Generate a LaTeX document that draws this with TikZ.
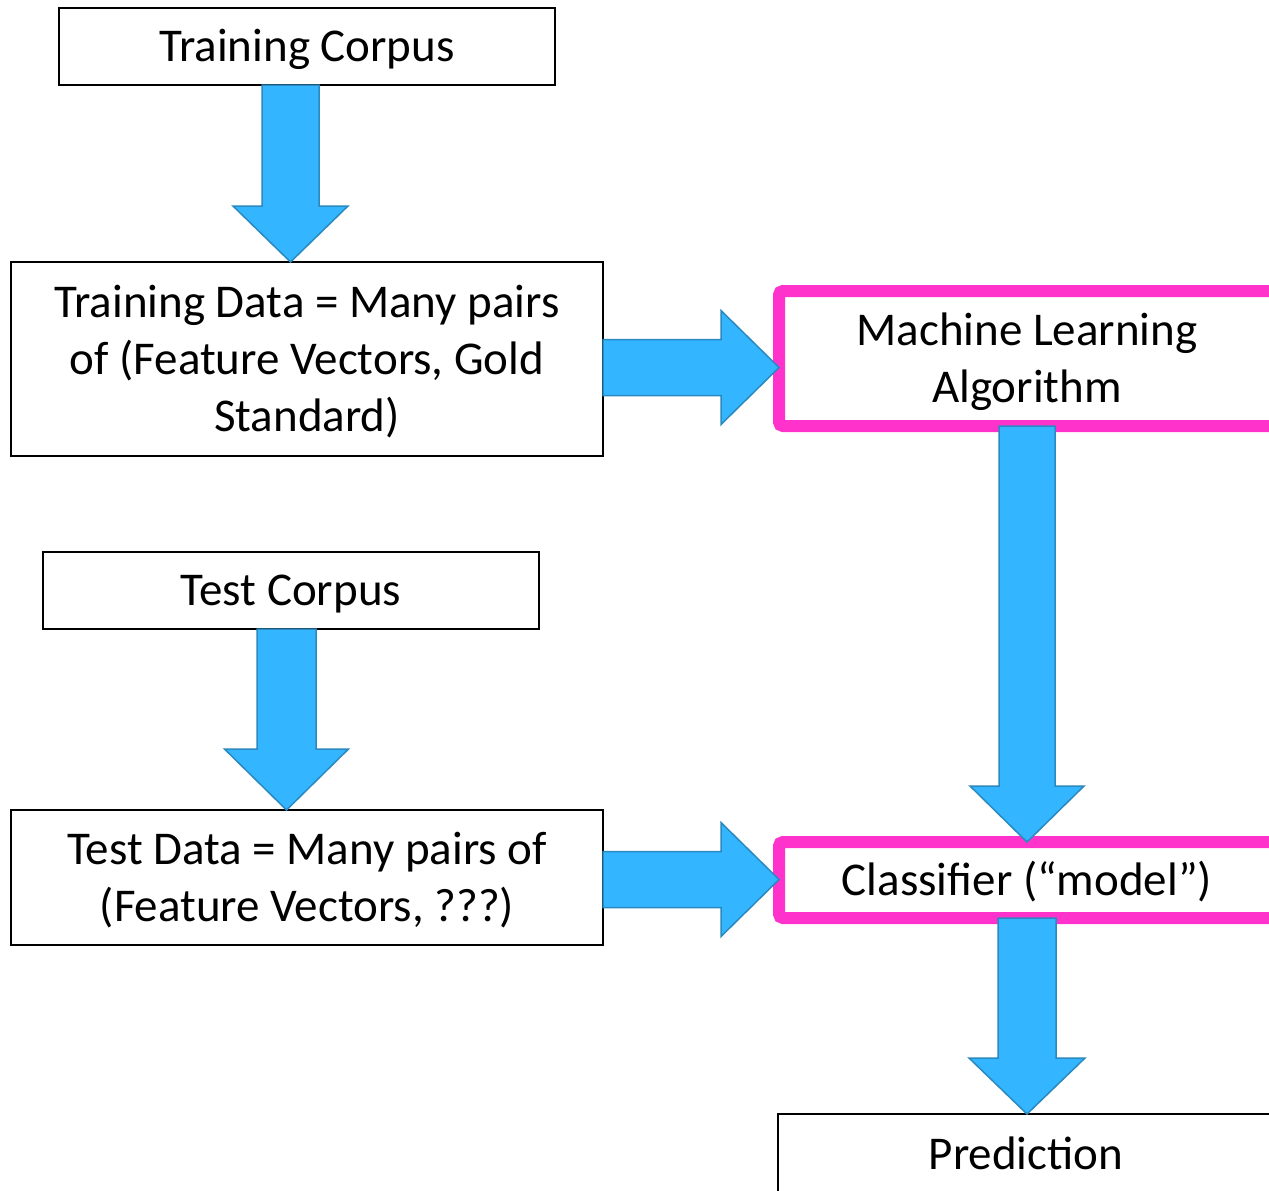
\documentclass[tikz,border=0pt]{standalone}
\usepackage{fontspec}
\setmainfont{Carlito}
\usetikzlibrary{calc}
\definecolor{arrowfill}{HTML}{33B5FF}
\definecolor{arrowline}{HTML}{2A8AC0}
\definecolor{pinkline}{HTML}{FF33CC}
\newcommand{\boxtext}[1]{\raisebox{-2pt}[\height][\depth]{\begin{tabular}{@{}c@{}}#1\end{tabular}}}
\tikzset{
  box/.style={draw=black, line width=1pt, fill=white, align=center, inner sep=0pt, outer sep=0pt,
    font=\fontsize{23.5}{28.5}\selectfont},
  pinkbox/.style={box, draw=pinkline, line width=6pt, rounded corners=2pt},
  blockarrow/.style={fill=arrowfill, draw=arrowline, line width=0.75pt, line join=miter},
}
% #1 centre-line coordinate, #2 from anchor, #3 to anchor, #4 half shaft, #5 half head, #6 head length
\newcommand{\blockdown}[6]{%
  \draw[blockarrow] ($(#1 |- #2)+(-#4,0)$) -- ($(#1 |- #2)+(#4,0)$)
    -- ($(#1 |- #3)+(#4,#6)$) -- ($(#1 |- #3)+(#5,#6)$) -- (#1 |- #3)
    -- ($(#1 |- #3)+(-#5,#6)$) -- ($(#1 |- #3)+(-#4,#6)$) -- cycle;}
\newcommand{\blockright}[6]{%
  \draw[blockarrow] ($(#1 -| #2)+(0,#4)$) -- ($(#1 -| #3)+(-#6,#4)$)
    -- ($(#1 -| #3)+(-#6,#5)$) -- (#1 -| #3) -- ($(#1 -| #3)+(-#6,-#5)$)
    -- ($(#1 -| #3)+(-#6,-#4)$) -- ($(#1 -| #2)+(0,-#4)$) -- cycle;}
\begin{document}
\begin{tikzpicture}[x=0.5pt, y=-0.5pt]
  \useasboundingbox (0,0) rectangle (1269,1190);
  \clip (0,0) rectangle (1269,1190);
  \fill[white] (0,0) rectangle (1269,1190);

  \node[box, minimum width=248pt, minimum height=38.5pt] (tc) at (307,46.5)
    {\boxtext{Training Corpus}};
  \node[box, minimum width=296pt, minimum height=97pt] (td) at (307,359)
    {\boxtext{Training Data = Many pairs\\of (Feature Vectors, Gold\\Standard)}};
  \node[pinkbox, minimum width=248pt, minimum height=67.5pt] (ml) at (1027,358.5)
    {\boxtext{Machine Learning\\Algorithm}};
  \node[box, minimum width=248pt, minimum height=38.5pt] (tsc) at (291,590.5)
    {\boxtext{Test Corpus}};
  \node[box, minimum width=296pt, minimum height=67.5pt] (tsd) at (307,877.5)
    {\boxtext{Test Data = Many pairs of\\(Feature Vectors, ???)}};
  \node[pinkbox, minimum width=248pt, minimum height=38pt] (cl) at (1027,880)
    {\boxtext{Classifier (“model”)}};
  \node[box, minimum width=248pt, minimum height=40pt] (pr) at (1026,1154)
    {\boxtext{Prediction}};

  \coordinate (a1) at (290.5,0);
  \coordinate (a2) at (286.5,0);
  \coordinate (a3) at (1027,0);
  \coordinate (r1) at (0,367.5);
  \coordinate (r2) at (0,879.5);

  \blockdown{a1}{tc.south}{td.north}{14.25pt}{28.75pt}{28pt}
  \blockdown{a2}{tsc.south}{tsd.north}{14.75pt}{31pt}{30.5pt}
  \blockdown{a3}{ml.south}{cl.north}{14pt}{28.5pt}{28pt}
  \blockdown{a3}{cl.south}{pr.north}{14.5pt}{29pt}{28pt}
  \blockright{r1}{td.east}{ml.west}{14pt}{28.5pt}{29pt}
  \blockright{r2}{tsd.east}{cl.west}{14pt}{28.5pt}{29pt}
\end{tikzpicture}
\end{document}
